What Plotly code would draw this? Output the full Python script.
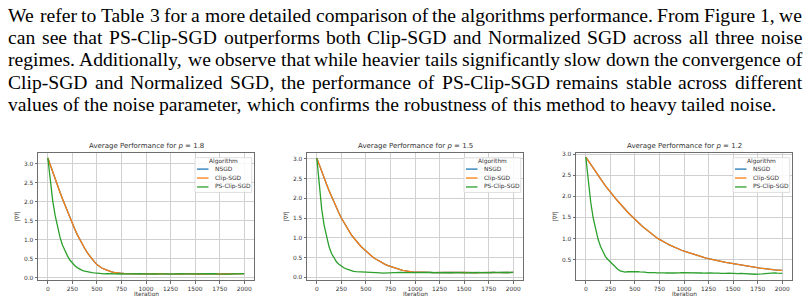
import plotly.graph_objects as go

W, H = 807, 304

# ---------------- data ----------------
ITER = list(range(0, 2001, 25))

CLIP_18 = [3.15, 2.96, 2.78, 2.60, 2.42, 2.24, 2.07, 1.90, 1.73, 1.57,
           1.42, 1.27, 1.13, 1.00, 0.88, 0.77, 0.66, 0.57, 0.48, 0.41,
           0.34, 0.29, 0.25, 0.22, 0.19, 0.17, 0.15, 0.135, 0.12, 0.115,
           0.11, 0.105, 0.10, 0.098, 0.095, 0.10, 0.097, 0.094, 0.098, 0.10,
           0.096, 0.093, 0.097, 0.10, 0.095, 0.092, 0.096, 0.099, 0.094, 0.091,
           0.089, 0.093, 0.097, 0.092, 0.09, 0.094, 0.097, 0.093, 0.095, 0.099,
           0.094, 0.091, 0.095, 0.10, 0.097, 0.093, 0.095, 0.098, 0.094, 0.09,
           0.093, 0.097, 0.095, 0.092, 0.096, 0.099, 0.094, 0.091, 0.095, 0.098,
           0.10]
PS_18 = [3.15, 2.52, 2.02, 1.63, 1.31, 1.05, 0.85, 0.69, 0.57, 0.46,
         0.37, 0.31, 0.26, 0.22, 0.19, 0.17, 0.15, 0.14, 0.13, 0.12,
         0.11, 0.105, 0.10, 0.098, 0.10, 0.096, 0.094, 0.097, 0.10, 0.095,
         0.092, 0.096, 0.099, 0.095, 0.10, 0.097, 0.093, 0.096, 0.10, 0.098,
         0.094, 0.097, 0.101, 0.096, 0.092, 0.095, 0.099, 0.097, 0.093, 0.09,
         0.094, 0.098, 0.095, 0.091, 0.095, 0.10, 0.097, 0.094, 0.098, 0.101,
         0.096, 0.092, 0.095, 0.099, 0.103, 0.098, 0.094, 0.097, 0.10, 0.096,
         0.092, 0.095, 0.098, 0.094, 0.091, 0.094, 0.097, 0.093, 0.096, 0.099,
         0.10]

CLIP_15 = [3.02, 2.84, 2.67, 2.51, 2.35, 2.19, 2.04, 1.90, 1.76, 1.63,
           1.50, 1.39, 1.28, 1.18, 1.08, 1.00, 0.92, 0.85, 0.78, 0.72,
           0.66, 0.60, 0.55, 0.50, 0.46, 0.42, 0.38, 0.35, 0.32, 0.295,
           0.27, 0.245, 0.22, 0.205, 0.19, 0.175, 0.16, 0.15, 0.14, 0.135,
           0.13, 0.128, 0.13, 0.125, 0.122, 0.125, 0.12, 0.118, 0.122, 0.12,
           0.117, 0.12, 0.123, 0.119, 0.116, 0.12, 0.118, 0.115, 0.119, 0.121,
           0.117, 0.114, 0.118, 0.12, 0.116, 0.113, 0.117, 0.12, 0.116, 0.114,
           0.112, 0.116, 0.119, 0.115, 0.117, 0.12, 0.116, 0.118, 0.121, 0.118,
           0.12]
PS_15 = [3.02, 2.28, 1.72, 1.31, 1.00, 0.77, 0.60, 0.48, 0.39, 0.33,
         0.28, 0.24, 0.21, 0.185, 0.165, 0.15, 0.14, 0.135, 0.13, 0.128,
         0.125, 0.122, 0.118, 0.12, 0.116, 0.112, 0.108, 0.105, 0.11, 0.114,
         0.118, 0.121, 0.117, 0.12, 0.123, 0.119, 0.116, 0.12, 0.124, 0.121,
         0.117, 0.114, 0.118, 0.122, 0.119, 0.115, 0.118, 0.121, 0.117, 0.114,
         0.117, 0.121, 0.118, 0.114, 0.11, 0.113, 0.117, 0.121, 0.118, 0.115,
         0.112, 0.116, 0.12, 0.124, 0.12, 0.116, 0.119, 0.115, 0.112, 0.108,
         0.112, 0.117, 0.121, 0.126, 0.13, 0.124, 0.119, 0.116, 0.12, 0.123,
         0.12]

CLIP_12 = [2.93, 2.84, 2.75, 2.67, 2.58, 2.50, 2.41, 2.33, 2.25, 2.17,
           2.10, 2.03, 1.96, 1.89, 1.82, 1.75, 1.69, 1.63, 1.57, 1.51,
           1.45, 1.40, 1.34, 1.29, 1.24, 1.19, 1.14, 1.09, 1.05, 1.01,
           0.98, 0.94, 0.91, 0.88, 0.85, 0.82, 0.79, 0.76, 0.74, 0.72,
           0.70, 0.68, 0.66, 0.64, 0.62, 0.60, 0.585, 0.57, 0.55, 0.535,
           0.52, 0.51, 0.495, 0.48, 0.47, 0.455, 0.445, 0.43, 0.42, 0.41,
           0.40, 0.39, 0.375, 0.36, 0.35, 0.34, 0.33, 0.325, 0.315, 0.31,
           0.30, 0.295, 0.29, 0.28, 0.275, 0.265, 0.26, 0.255, 0.25, 0.245,
           0.24]
PS_12 = [2.93, 2.33, 1.86, 1.49, 1.20, 0.98, 0.81, 0.67, 0.57, 0.50,
         0.44, 0.38, 0.32, 0.27, 0.23, 0.21, 0.20, 0.21, 0.215, 0.21,
         0.22, 0.215, 0.205, 0.21, 0.20, 0.19, 0.195, 0.20, 0.19, 0.185,
         0.19, 0.195, 0.185, 0.18, 0.19, 0.185, 0.18, 0.175, 0.185, 0.19,
         0.19, 0.195, 0.185, 0.18, 0.19, 0.195, 0.185, 0.18, 0.175, 0.18,
         0.185, 0.18, 0.175, 0.18, 0.175, 0.17, 0.165, 0.17, 0.175, 0.17,
         0.165, 0.16, 0.165, 0.17, 0.165, 0.16, 0.165, 0.16, 0.155, 0.15,
         0.155, 0.15, 0.16, 0.165, 0.17, 0.185, 0.19, 0.185, 0.175, 0.17,
         0.17]

# NSGD coincides with Clip-SGD in every panel (its line is fully hidden under it)
NSGD_18 = list(CLIP_18)
NSGD_15 = list(CLIP_15)
NSGD_12 = list(CLIP_12)

P_LABELS = ["1.8", "1.5", "1.2"]
ALGORITHMS = ["NSGD", "Clip-SGD", "PS-Clip-SGD"]
SERIES = [[NSGD_18, CLIP_18, PS_18],
          [NSGD_15, CLIP_15, PS_15],
          [NSGD_12, CLIP_12, PS_12]]
X_TICKS = [0, 250, 500, 750, 1000, 1250, 1500, 1750, 2000]
Y_TICKS = [0.0, 0.5, 1.0, 1.5, 2.0, 2.5, 3.0]

PARAGRAPH = [
    "We refer to Table 3 for a more detailed comparison of the algorithms performance. From Figure 1, we",
    "can see that PS-Clip-SGD outperforms both Clip-SGD and Normalized SGD across all three noise",
    "regimes. Additionally, we observe that while heavier tails significantly slow down the convergence of",
    "Clip-SGD and Normalized SGD, the performance of PS-Clip-SGD remains stable across different",
    "values of the noise parameter, which confirms the robustness of this method to heavy tailed noise.",
]

# ---------------- style / layout ----------------
COLORS = ["#1f77b4", "#ff7f0e", "#2ca02c"]
AX_LEFT = [38, 307, 576]
AX_W = 216
AX_TOP, AX_BOT = 152, 280
X_RANGE = [-100, 2100]
Y_RANGES = [[-0.07, 3.28], [-0.075, 3.15], [0.01, 3.03]]
SANS = "DejaVu Sans, Arial, sans-serif"
SERIF = "Liberation Serif, Times New Roman, serif"
TXT = "#333333"


def px(x):
    return x / W


def py(y):
    return 1 - y / H


fig = go.Figure()
annotations = []
shapes = []

for k in range(3):
    sfx = "" if k == 0 else str(k + 1)
    for name, vals, col in zip(ALGORITHMS, SERIES[k], COLORS):
        fig.add_trace(go.Scatter(x=ITER, y=vals, mode="lines", name=name,
                                 line=dict(color=col, width=1.3),
                                 showlegend=False, hoverinfo="skip",
                                 xaxis="x" + sfx, yaxis="y" + sfx))
    axcommon = dict(showline=True, mirror=True, linecolor="#6e6e6e", linewidth=0.9,
                    showgrid=True, gridcolor="#d0d0d0", gridwidth=0.9, zeroline=False,
                    ticks="outside", ticklen=2.5, tickwidth=0.8, tickcolor="#6e6e6e",
                    tickfont=dict(family=SANS, size=5.9, color=TXT))
    fig.layout["xaxis" + sfx] = dict(axcommon, domain=[px(AX_LEFT[k]), px(AX_LEFT[k] + AX_W)],
                                     range=X_RANGE, tickvals=X_TICKS, anchor="y" + sfx)
    fig.layout["yaxis" + sfx] = dict(axcommon, domain=[py(AX_BOT), py(AX_TOP)],
                                     range=Y_RANGES[k], tickvals=Y_TICKS, tickformat=".1f",
                                     anchor="x" + sfx)
    L = AX_LEFT[k]
    cx = L + AX_W / 2
    # title
    annotations.append(dict(text="Average Performance for <i>p</i> = " + P_LABELS[k],
                            x=px(cx), y=py(145), xref="paper", yref="paper",
                            xanchor="center", yanchor="middle", showarrow=False,
                            font=dict(family=SANS, size=7, color=TXT)))
    # axis labels
    annotations.append(dict(text="Iteration", x=px(cx), y=py(294), xref="paper", yref="paper",
                            xanchor="center", yanchor="middle", showarrow=False,
                            font=dict(family=SANS, size=5.9, color=TXT)))
    annotations.append(dict(text="|∇<i>f</i>|", x=px(L - 20), y=py((AX_TOP + AX_BOT) / 2),
                            xref="paper", yref="paper", textangle=-90,
                            xanchor="center", yanchor="middle", showarrow=False,
                            font=dict(family=SANS, size=5.9, color=TXT)))
    # legend box
    bx0, bx1 = L + 157, L + AX_W - 2.3
    by0, by1 = 156.7, 191.7
    shapes.append(dict(type="rect", xref="paper", yref="paper",
                       x0=px(bx0), x1=px(bx1), y0=py(by1), y1=py(by0),
                       line=dict(color="#d8d8d8", width=0.8), fillcolor="rgba(255,255,255,0.85)",
                       layer="above"))
    annotations.append(dict(text="Algorithm", x=px((bx0 + bx1) / 2), y=py(160.2),
                            xref="paper", yref="paper", xanchor="center", yanchor="middle",
                            showarrow=False, font=dict(family=SANS, size=5.9, color=TXT)))
    for j, (name, col) in enumerate(zip(ALGORITHMS, COLORS)):
        yy = 168.2 + j * 9.0
        shapes.append(dict(type="line", xref="paper", yref="paper",
                           x0=px(L + 159), x1=px(L + 170.5), y0=py(yy), y1=py(yy),
                           line=dict(color=col, width=1.3), layer="above"))
        annotations.append(dict(text=name, x=px(L + 174.5), y=py(yy), xref="paper", yref="paper",
                                xanchor="left", yanchor="middle", showarrow=False,
                                font=dict(family=SANS, size=5.9, color=TXT)))

# ---------------- justified paragraph ----------------
TIMES = {' ': 250, ',': 250, '-': 333, '.': 250, '1': 500, '3': 500,
         'A': 722, 'C': 667, 'D': 722, 'F': 556, 'G': 722, 'N': 722, 'P': 556,
         'S': 556, 'T': 611, 'W': 944,
         'a': 444, 'b': 500, 'c': 444, 'd': 500, 'e': 444, 'f': 333, 'g': 500,
         'h': 500, 'i': 278, 'j': 278, 'k': 500, 'l': 278, 'm': 778, 'n': 500,
         'o': 500, 'p': 500, 'q': 500, 'r': 333, 's': 389, 't': 278, 'u': 500,
         'v': 500, 'w': 722, 'x': 500, 'y': 500, 'z': 444}
FS = 19.6
LEFT, RIGHT = 7, 801
BASELINES = [20, 42.5, 65, 87.5, 110]


def tw(s):
    return sum(TIMES.get(c, 500) for c in s) / 1000.0 * FS


for li, line in enumerate(PARAGRAPH):
    words = line.split(" ")
    widths = [tw(w) for w in words]
    if li < len(PARAGRAPH) - 1:
        gap = max(0.2 * FS, (RIGHT - LEFT - sum(widths)) / (len(words) - 1))
    else:
        gap = 0.25 * FS
    x = LEFT
    ymid = BASELINES[li] - 0.34 * FS
    for w, wd in zip(words, widths):
        annotations.append(dict(text=w, x=px(x), y=py(ymid), xref="paper", yref="paper",
                                xanchor="left", yanchor="middle", showarrow=False, borderpad=0,
                                font=dict(family=SERIF, size=FS, color="#000000")))
        x += wd + gap

fig.update_layout(width=W, height=H, margin=dict(l=0, r=0, t=0, b=0),
                  paper_bgcolor="white", plot_bgcolor="white",
                  annotations=annotations, shapes=shapes, showlegend=False)

fig.write_html("out.html")
